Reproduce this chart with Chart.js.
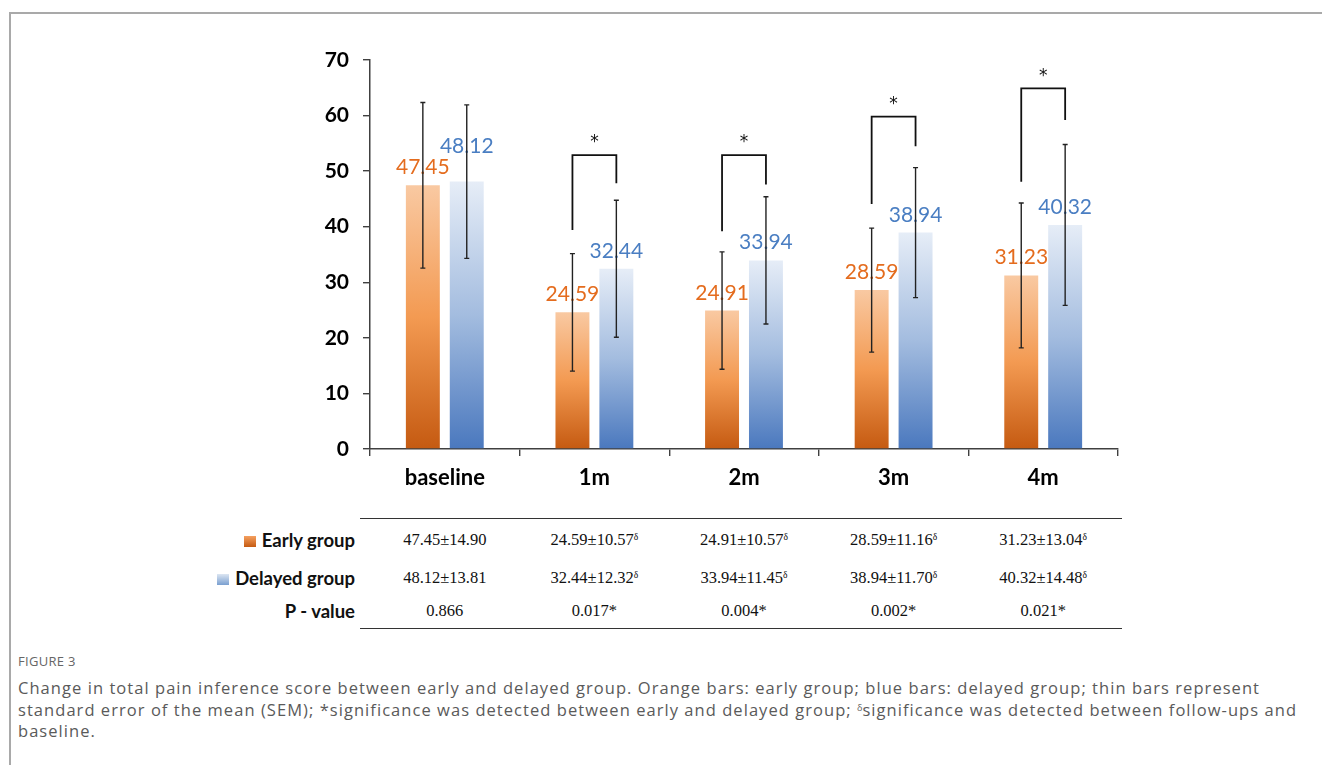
<!DOCTYPE html>
<html>
<head>
<meta charset="utf-8">
<script src="https://cdn.jsdelivr.net/npm/chart.js@4.4.1/dist/chart.umd.min.js"></script>
<style>
body{margin:0;background:#fff;width:1322px;height:765px;overflow:hidden;position:relative;font-family:"Open Sans",sans-serif}
#frame{position:absolute;left:9px;top:12px;width:1330px;height:800px;border-top:2px solid #a9a9a9;border-left:2px solid #a9a9a9}
#wrap{position:absolute;left:0;top:0;width:1322px;height:510px}
.hline{position:absolute;left:360px;width:762px;height:0;border-top:1.6px solid #333}
.cell{position:absolute;font-family:"Liberation Serif","Times New Roman",serif;font-size:16.5px;color:#111;transform:translate(-50%,-50%);white-space:nowrap}
.cell sup{font-size:9.5px;vertical-align:5px}
.rowlab{position:absolute;right:967px;font-family:Lato,sans-serif;font-weight:bold;font-size:18.5px;color:#111;transform:translateY(-50%);white-space:nowrap}
.sw{display:inline-block;width:12px;height:11px;margin-right:6px;vertical-align:0px}
#cap{position:absolute;left:18px;top:652px;width:1298px;color:#5a5a5a}
#cap .fig{font-size:13px;color:#666;margin-bottom:7px;letter-spacing:0.3px}
#cap .txt{font-size:16.5px;line-height:21.5px;letter-spacing:1.05px}
#cap sup{font-size:9px;line-height:0;vertical-align:5px;letter-spacing:0}
</style>
</head>
<body>
<div id="frame"></div>
<div id="wrap"><canvas id="myChart"></canvas></div>
<div id="tbl"></div>
<div id="cap">
  <div class="fig">FIGURE 3</div>
  <div class="txt">Change in total pain inference score between early and delayed group. Orange bars: early group; blue bars: delayed group; thin bars represent standard error of the mean (SEM); *significance was detected between early and delayed group; <sup>δ</sup>significance was detected between follow-ups and baseline.</div>
</div>
<script>
var labels = ['baseline', '1m', '2m', '3m', '4m'];
var earlyMean = [47.45, 24.59, 24.91, 28.59, 31.23];
var earlySd = [14.90, 10.57, 10.57, 11.16, 13.04];
var delayedMean = [48.12, 32.44, 33.94, 38.94, 40.32];
var delayedSd = [13.81, 12.32, 11.45, 11.70, 14.48];
var pValues = ['0.866', '0.017*', '0.004*', '0.002*', '0.021*'];
var followUpSig = [false, true, true, true, true];
// significance brackets (in score units): top, left leg end, right leg end
var sigTop = [null, 52.9, 52.9, 59.8, 64.9];
var sigLeft = [null, 39.4, 39.2, 44.1, 48.1];
var sigRight = [null, 47.8, 47.6, 54.5, 59.2];

var orange = '#E46C1E', blue = '#4A7EC2';

function barFill(stops){
  return function(c){
    var chart = c.chart, area = chart.chartArea;
    if(!area || c.type !== 'data') return stops[stops.length-1];
    var y = chart.scales.y;
    var g = chart.ctx.createLinearGradient(0, y.getPixelForValue(c.raw), 0, y.getPixelForValue(0));
    for(var i=0;i<stops.length;i++) g.addColorStop(i/(stops.length-1), stops[i]);
    return g;
  };
}

var extras = {
  id: 'extras',
  afterDatasetsDraw: function(chart){
    var ctx = chart.ctx, y = chart.scales.y;
    var sds = [earlySd, delayedSd];
    var m0 = chart.getDatasetMeta(0).data, m1 = chart.getDatasetMeta(1).data;
    ctx.save();
    // value labels; lift the blue one if it would collide with the orange one
    ctx.font = '21px Lato, sans-serif';
    ctx.textAlign = 'center';
    ctx.textBaseline = 'alphabetic';
    for(var i=0; i<labels.length; i++){
      var t0 = earlyMean[i].toFixed(2), t1 = delayedMean[i].toFixed(2);
      var y0 = m0[i].y - 11, y1 = m1[i].y - 11;
      var w0 = ctx.measureText(t0).width, w1 = ctx.measureText(t1).width;
      var hOverlap = (m0[i].x + w0/2) > (m1[i].x - w1/2);
      if(hOverlap && Math.abs(y0 - y1) < 20) y1 = Math.min(y1, y0 - 21);
      ctx.fillStyle = orange; ctx.fillText(t0, m0[i].x, y0);
      ctx.fillStyle = blue; ctx.fillText(t1, m1[i].x, y1);
    }
    // error bars
    ctx.strokeStyle = '#222';
    ctx.lineWidth = 1.4;
    for(var d=0; d<2; d++){
      chart.getDatasetMeta(d).data.forEach(function(el, i){
        var v = chart.data.datasets[d].data[i];
        var t = y.getPixelForValue(v + sds[d][i]), b = y.getPixelForValue(v - sds[d][i]);
        ctx.beginPath();
        ctx.moveTo(el.x, t); ctx.lineTo(el.x, b);
        ctx.moveTo(el.x-2.5, t); ctx.lineTo(el.x+2.5, t);
        ctx.moveTo(el.x-2.5, b); ctx.lineTo(el.x+2.5, b);
        ctx.stroke();
      });
    }
    // significance brackets
    ctx.lineWidth = 1.8;
    ctx.strokeStyle = '#111';
    ctx.fillStyle = '#111';
    ctx.font = '17px "DejaVu Sans", sans-serif';
    ctx.textBaseline = 'middle';
    for(var i=0; i<labels.length; i++){
      if(sigTop[i] === null) continue;
      var xl = m0[i].x, xr = m1[i].x, yt = y.getPixelForValue(sigTop[i]);
      ctx.beginPath();
      ctx.moveTo(xl, y.getPixelForValue(sigLeft[i]));
      ctx.lineTo(xl, yt);
      ctx.lineTo(xr, yt);
      ctx.lineTo(xr, y.getPixelForValue(sigRight[i]));
      ctx.stroke();
      ctx.fillText('*', (xl+xr)/2, yt - 12);
    }
    ctx.restore();
  }
};

var ctx = document.getElementById('myChart');
var myChart = new Chart(ctx, {
  type: 'bar',
  data: {
    labels: labels,
    datasets: [{
      label: 'Early group',
      data: earlyMean,
      backgroundColor: barFill(['#F9C9A2', '#F39A52', '#C55A11'])
    }, {
      label: 'Delayed group',
      data: delayedMean,
      backgroundColor: barFill(['#E6EDF7', '#A3BCDF', '#4A78BE'])
    }]
  },
  options: {
    responsive: true,
    maintainAspectRatio: false,
    animation: false,
    categoryPercentage: 0.587,
    barPercentage: 0.773,
    layout: {padding: {left: 300, right: 204, top: 60, bottom: 6}},
    plugins: {
      legend: {display: false},
      tooltip: {enabled: false}
    },
    scales: {
      x: {
        afterFit: function(s){ s.height = 55; },
        grid: {drawOnChartArea: false, drawTicks: true, tickLength: 7, color: '#404040', lineWidth: 1.4},
        border: {display: true, color: '#404040', width: 1.5},
        ticks: {color: '#000', padding: 9, font: {family: 'Lato', size: 22, weight: 'bold'}}
      },
      y: {
        min: 0,
        max: 70,
        afterFit: function(s){ s.width = 70; },
        grid: {drawOnChartArea: false, drawTicks: true, tickLength: 7, color: '#404040', lineWidth: 1.4},
        border: {display: true, color: '#404040', width: 1.5},
        ticks: {stepSize: 10, color: '#000', padding: 14, font: {family: 'Lato', size: 21, weight: 'bold'}}
      }
    }
  },
  plugins: [extras]
});

// table under the chart, columns aligned to the category centres
var tbl = document.getElementById('tbl');
var rowsY = [540, 578, 611];
var html = '<div class="hline" style="top:518px"></div><div class="hline" style="top:628px"></div>';
html += '<div class="rowlab" style="top:' + rowsY[0] + 'px"><span class="sw" style="background:linear-gradient(#F5A060,#C55A11)"></span>Early group</div>';
html += '<div class="rowlab" style="top:' + rowsY[1] + 'px"><span class="sw" style="background:linear-gradient(#DCE6F2,#7A9FD0)"></span>Delayed group</div>';
html += '<div class="rowlab" style="top:' + rowsY[2] + 'px">P - value</div>';
for(var i=0; i<labels.length; i++){
  var cx = myChart.scales.x.getPixelForValue(i);
  var sup = followUpSig[i] ? '<sup>δ</sup>' : '';
  html += '<div class="cell" style="left:' + cx + 'px;top:' + rowsY[0] + 'px">' + earlyMean[i].toFixed(2) + '±' + earlySd[i].toFixed(2) + sup + '</div>';
  html += '<div class="cell" style="left:' + cx + 'px;top:' + rowsY[1] + 'px">' + delayedMean[i].toFixed(2) + '±' + delayedSd[i].toFixed(2) + sup + '</div>';
  html += '<div class="cell" style="left:' + cx + 'px;top:' + rowsY[2] + 'px">' + pValues[i] + '</div>';
}
tbl.innerHTML = html;
</script>
</body>
</html>
